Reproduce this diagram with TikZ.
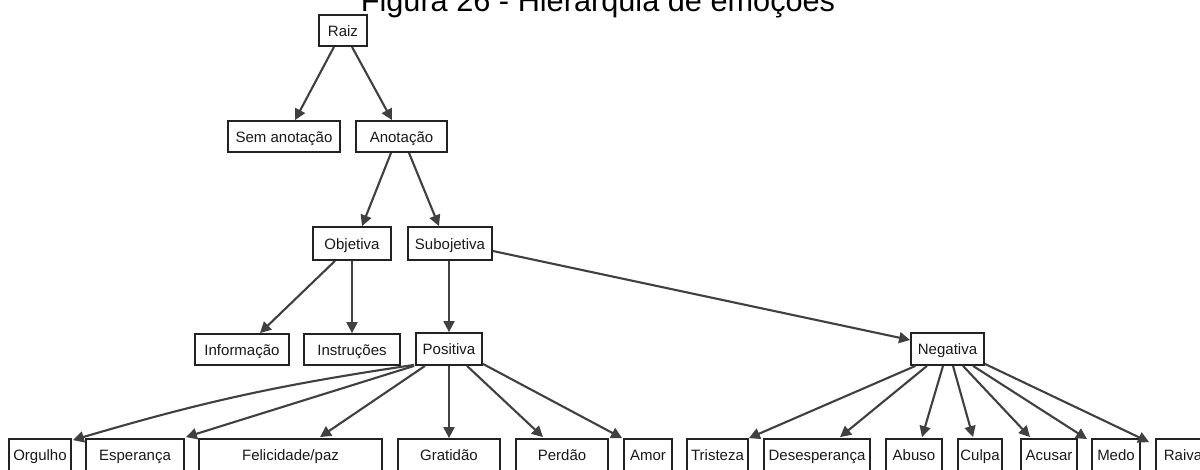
\documentclass[tikz,border=0pt]{standalone}
\usepackage{fontspec}
\setmainfont{Liberation Sans}
\usetikzlibrary{arrows.meta}
\definecolor{edgegray}{RGB}{64,64,64}
\definecolor{boxline}{RGB}{34,34,34}
\definecolor{inkcol}{RGB}{25,25,25}
\tikzset{
  box/.style={draw=boxline, line width=1.8pt, inner sep=0pt, minimum height=#1,
              text height=11pt, text depth=0pt, text=inkcol,
              font=\fontsize{15pt}{17pt}\selectfont},
  box/.default=31pt,
  arr/.style={draw=edgegray, line width=2.1pt,
              -{Triangle[length=11pt,width=11pt]}},
}
\begin{document}
\begin{tikzpicture}[x=1pt,y=-1pt]
\useasboundingbox (0,0) rectangle (1200,469);
\fill[white] (0,0) rectangle (1200,469);

% title (its upper half lies above the page edge)
\node[anchor=base, inner sep=0pt, text=black,
      font=\fontsize{30.7pt}{34pt}\selectfont] (title) at (598,11)
      {Figura 26 - Hierarquia de emoções};

% upper levels
\node[box, minimum width=48pt] (raiz) at (343,30.5) {Raiz};
\node[box, minimum width=112pt] (sem) at (284,136.5) {Sem anotação};
\node[box, minimum width=91pt] (anot) at (401.5,136.5) {Anotação};
\node[box=33pt, minimum width=78pt] (obj) at (352,243.5) {Objetiva};
\node[box=33pt, minimum width=84pt] (subj) at (450,243.5) {Subojetiva};
\node[box, minimum width=94pt] (info) at (242,349.5) {Informação};
\node[box, minimum width=96pt] (instr) at (352,349.5) {Instruções};
\node[box=32pt, minimum width=66pt] (pos) at (449,349) {Positiva};
\node[box=32pt, minimum width=73pt] (neg) at (947.5,349) {Negativa};

% leaves
\node[box=32pt, minimum width=62pt]  (orgulho) at (40,455) {Orgulho};
\node[box=32pt, minimum width=98pt]  (esper)   at (135,455) {Esperança};
\node[box=32pt, minimum width=183pt] (felic)   at (290.5,455) {Felicidade/paz};
\node[box=32pt, minimum width=102pt] (grat)    at (449,455) {Gratidão};
\node[box=32pt, minimum width=92pt]  (perdao)  at (562,455) {Perdão};
\node[box=32pt, minimum width=48pt]  (amor)    at (648,455) {Amor};
\node[box=32pt, minimum width=61pt]  (trist)   at (717.5,455) {Tristeza};
\node[box=32pt, minimum width=106pt] (desesp)  at (817,455) {Desesperança};
\node[box=32pt, minimum width=56pt]  (abuso)   at (914,455) {Abuso};
\node[box=32pt, minimum width=44pt]  (culpa)   at (980,455) {Culpa};
\node[box=32pt, minimum width=56pt]  (acusar)  at (1049,455) {Acusar};
\node[box=32pt, minimum width=48pt]  (medo)    at (1116,455) {Medo};
\node[box=32pt, minimum width=54pt]  (raiva)   at (1183,455) {Raiva};

% connectors
\draw[arr] ([xshift=-9pt]raiz.south) -- ([xshift=11pt]sem.north);
\draw[arr] ([xshift=9pt]raiz.south) -- ([xshift=-9.5pt]anot.north);
\draw[arr] ([xshift=-10.5pt]anot.south) -- ([xshift=10pt]obj.north);
\draw[arr] ([xshift=7.5pt]anot.south) -- ([xshift=-11pt]subj.north);
\draw[arr] ([xshift=-17pt]obj.south) -- ([xshift=18pt]info.north);
\draw[arr] (obj.south) -- (obj.south |- instr.north);
\draw[arr] (subj.south -| pos.north) -- (pos.north);
\draw[arr] ([yshift=-7.5pt]subj.east) -- ([yshift=9pt]neg.west);

\draw[arr] ([xshift=-1pt,yshift=1pt]pos.south west) to[bend right=4] ([xshift=1pt,yshift=-2pt]orgulho.north east);
\draw[arr] ([xshift=-1pt]pos.south west) -- ([xshift=1pt,yshift=1pt]esper.north east);
\draw[arr] ([xshift=-24pt]pos.south) -- ([xshift=29.5pt,yshift=1pt]felic.north);
\draw[arr] (pos.south) -- (grat.north);
\draw[arr] ([xshift=18pt]pos.south) -- ([xshift=-19pt,yshift=1pt]perdao.north);
\draw[arr] ([yshift=2pt]pos.south east) -- ([xshift=-1pt]amor.north west);

\draw[arr] ([xshift=-32pt]neg.south) -- (trist.north east);
\draw[arr] ([xshift=-20.5pt]neg.south) -- ([xshift=23pt,yshift=1pt]desesp.north);
\draw[arr] ([xshift=-4.5pt]neg.south) -- ([xshift=8pt,yshift=1pt]abuso.north);
\draw[arr] ([xshift=5.5pt]neg.south) -- ([xshift=-7pt,yshift=1pt]culpa.north);
\draw[arr] ([xshift=15.5pt]neg.south) -- ([xshift=-19pt,yshift=1pt]acusar.north);
\draw[arr] ([xshift=25.5pt]neg.south) -- ([xshift=-4pt,yshift=-1pt]medo.north west);
\draw[arr] ([yshift=2pt]neg.south east) -- ([xshift=-6pt,yshift=-4pt]raiva.north west);
\end{tikzpicture}
\end{document}
